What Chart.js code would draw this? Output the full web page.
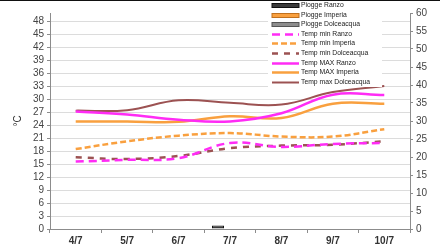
<!DOCTYPE html>
<html>
<head>
<meta charset="utf-8">
<script src="https://cdn.jsdelivr.net/npm/chart.js@4/dist/chart.umd.min.js"></script>
<style>
  html, body { margin: 0; padding: 0; background: #fff; }
  canvas { display: block; }
</style>
</head>
<body>
<canvas id="meteo_chart" width="440" height="246"></canvas>
<script>
"use strict";

const days = ["4/7", "5/7", "6/7", "7/7", "8/7", "9/7", "10/7"];

// rain (mm) - right axis
const rainRanzo = [0, 0, 0, 1, 0, 0, 0];
const rainImperia = [0, 0, 0, 0, 0, 0, 0];
const rainDolceacqua = [0, 0, 0, 0, 0, 0, 0];

// temperatures (°C) - left axis
const minRanzo = [15.6, 16.0, 16.4, 19.9, 19.0, 19.7, 19.9];
const minImperia = [18.5, 20.3, 21.6, 22.2, 21.4, 21.4, 23.1];
const minDolceacqua = [16.6, 16.2, 16.9, 18.7, 19.3, 19.5, 20.3];
const maxRanzo = [27.2, 26.5, 25.3, 24.9, 26.8, 31.1, 31.0];
const maxImperia = [24.9, 24.9, 24.8, 26.1, 25.7, 29.0, 29.0];
const maxDolceacqua = [27.4, 27.5, 29.8, 29.2, 28.8, 31.7, 33.1];

const leftTicks = [0, 3, 6, 9, 12, 15, 18, 21, 24, 27, 30, 33, 36, 39, 42, 45, 48];
const rightTicks = [0, 5, 10, 15, 20, 25, 30, 35, 40, 45, 50, 55, 60];

const MAGENTA = "#ff2cf5";
const ORANGE = "#f9a03f";
const BROWN = "#9c5252";
const AXIS = "#8c8c8c";

function rainSet(label, data, fill, border) {
  return {
    type: "bar",
    label: label,
    data: data,
    yAxisID: "y2",
    backgroundColor: fill,
    borderColor: border,
    borderWidth: 1,
    categoryPercentage: 0.7,
    barPercentage: 1.0,
    order: 2
  };
}

function tempSet(label, data, color, dash, width) {
  return {
    type: "line",
    label: label,
    data: data,
    yAxisID: "y",
    borderColor: color,
    backgroundColor: color,
    borderWidth: width,
    borderDash: dash,
    pointRadius: 0,
    tension: 0.4,
    fill: false,
    order: 1
  };
}

// legend drawn inside the plot, top right, on a white box
const boxLegend = {
  id: "boxLegend",
  afterDraw(chart) {
    const ctx = chart.ctx;
    ctx.save();
    ctx.fillStyle = "#111";
    ctx.fillRect(0, 0, chart.width, 1);
    ctx.fillStyle = "#fff";
    ctx.fillRect(268, 1, 114, 86);
    ctx.font = "6.8px 'Liberation Sans', Arial, sans-serif";
    ctx.textBaseline = "middle";
    chart.data.datasets.forEach((ds, i) => {
      const y = Math.round(5 + i * 9.6) + 0.5;
      if (ds.type === "bar") {
        ctx.setLineDash([]);
        ctx.fillStyle = ds.backgroundColor;
        ctx.fillRect(272, y - 2, 27, 4);
        ctx.strokeStyle = ds.borderColor;
        ctx.lineWidth = 1;
        ctx.strokeRect(272, y - 2, 27, 4);
      } else {
        ctx.strokeStyle = ds.borderColor;
        ctx.lineWidth = ds.borderWidth;
        ctx.setLineDash(ds.borderDash || []);
        ctx.beginPath();
        ctx.moveTo(272, y);
        ctx.lineTo(299, y);
        ctx.stroke();
      }
      ctx.setLineDash([]);
      ctx.fillStyle = "#222";
      ctx.fillText(ds.label, 301, y);
    });
    ctx.restore();
  }
};

var ctx1 = document.getElementById("meteo_chart").getContext("2d");
var meteoChart = new Chart(ctx1, {
  type: "bar",
  data: {
    labels: days,
    datasets: [
      rainSet("Piogge Ranzo", rainRanzo, "#3a3a3a", "#111"),
      rainSet("Piogge Imperia", rainImperia, "#f9a03f", "#c0701e"),
      rainSet("Piogge Dolceacqua", rainDolceacqua, "#8d8d8d", "#555"),
      tempSet("Temp min Ranzo", minRanzo, MAGENTA, [8, 5], 2.5),
      tempSet("Temp min Imperia", minImperia, ORANGE, [6, 3], 2.5),
      tempSet("Temp min Dolceacqua", minDolceacqua, BROWN, [6, 6], 2.5),
      tempSet("Temp MAX Ranzo", maxRanzo, MAGENTA, [], 2.5),
      tempSet("Temp MAX Imperia", maxImperia, ORANGE, [], 2.5),
      tempSet("Temp max Dolceacqua", maxDolceacqua, BROWN, [], 2)
    ]
  },
  options: {
    responsive: false,
    animation: false,
    devicePixelRatio: 1,
    layout: { padding: { top: 13, left: 0, right: 0, bottom: 0 } },
    plugins: {
      legend: { display: false },
      tooltip: { enabled: false }
    },
    scales: {
      x: {
        offset: true,
        grid: {
          drawOnChartArea: false,
          offset: true,
          tickLength: 4,
          tickColor: AXIS
        },
        border: { color: AXIS },
        ticks: {
          color: "#333",
          padding: 2,
          maxRotation: 0,
          autoSkip: false,
          font: { family: "'Liberation Sans', Arial", size: 10, weight: "bold" }
        },
        afterFit: scale => { scale.height = 17; }
      },
      y: {
        position: "left",
        min: 0,
        max: 50,
        afterBuildTicks: scale => {
          scale.ticks = leftTicks.map(v => ({ value: v }));
        },
        grid: { color: "#dcdcdc", tickLength: 3, tickColor: AXIS },
        border: { color: AXIS },
        ticks: {
          color: "#444",
          padding: 3,
          autoSkip: false,
          font: { family: "'Liberation Sans', Arial", size: 10 }
        },
        title: {
          display: true,
          text: "°C",
          color: "#333",
          padding: { top: 12, bottom: 0 },
          font: { family: "'Liberation Sans', Arial", size: 10 }
        },
        afterFit: scale => { scale.width = 50; }
      },
      y2: {
        position: "right",
        min: 0,
        max: 60,
        afterBuildTicks: scale => {
          scale.ticks = rightTicks.map(v => ({ value: v }));
        },
        grid: { drawOnChartArea: false, tickLength: 3, tickColor: AXIS },
        border: { color: AXIS },
        ticks: {
          color: "#444",
          padding: 3,
          autoSkip: false,
          font: { family: "'Liberation Sans', Arial", size: 10 }
        },
        afterFit: scale => { scale.width = 30; }
      }
    }
  },
  plugins: [boxLegend]
});
</script>
</body>
</html>
